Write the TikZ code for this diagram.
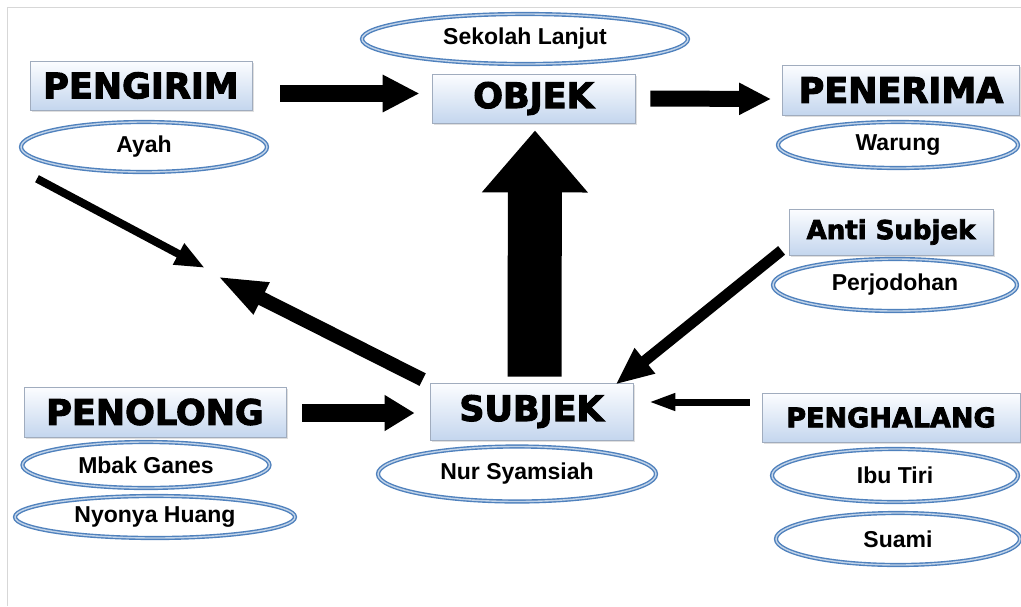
\documentclass[tikz,border=0pt]{standalone}
\usepackage{fontspec}
\setmainfont{Liberation Sans}
\newfontfamily\titlefont{DejaVu Sans}[BoldFeatures={FakeBold=3}]
\usetikzlibrary{arrows.meta, shadows, positioning, shapes.geometric}
\definecolor{boxtop}{RGB}{252,253,255}
\definecolor{boxbottom}{RGB}{196,214,238}
\definecolor{boxline}{RGB}{160,172,190}
\definecolor{ringblue}{RGB}{79,129,189}
\definecolor{frameline}{RGB}{215,215,215}
\tikzset{
  role/.style={rectangle, draw=boxline, line width=0.8pt, top color=boxtop, bottom color=boxbottom,
    drop shadow={shadow xshift=2pt, shadow yshift=-2pt, fill=black!25}, inner sep=0pt,
    font=\titlefont\bfseries\fontsize{35}{35}\selectfont},
  actor/.style={ellipse, draw=ringblue, line width=1.4pt, double=ringblue!35, double distance=1.4pt,
    fill=white, inner sep=0pt, font=\bfseries\fontsize{23}{23}\selectfont},
  arr/.style n args={3}{line width=#1, -{Triangle[length=#2,width=#3]}},
}

\begin{document}
\begin{tikzpicture}[x=1pt, y=-1pt]
\useasboundingbox (0,0) rectangle (1021,606);
\draw[frameline, line width=1pt] (7,606) -- (7,7) -- (1021,7);

% roles
\node[role, minimum width=222pt, minimum height=49pt] (pengirim) at (141,85.5) {PENGIRIM};
\node[role, minimum width=203pt, minimum height=49pt] (objek) at (533.5,98.5) {OBJEK};
\node[role, minimum width=237pt, minimum height=50pt] (penerima) at (901,90) {PENERIMA};
\node[role, minimum width=204pt, minimum height=46pt, font=\titlefont\bfseries\fontsize{26}{26}\selectfont] (anti) at (891,232) {Anti Subjek};
\node[role, minimum width=203pt, minimum height=57pt] (subjek) at (531.5,411.5) {SUBJEK};
\node[role, minimum width=258pt, minimum height=49pt, font=\titlefont\bfseries\fontsize{27}{27}\selectfont] (penghalang) at (891,417.5) {PENGHALANG};
\node[role, minimum width=262pt, minimum height=50pt] (penolong) at (155,412) {PENOLONG};

% actors
\node[actor, minimum width=246pt, minimum height=50pt] (ayah) at (144,147) {Ayah};
\node[actor, minimum width=326pt, minimum height=50pt] (sekolah) at (525,39) {Sekolah Lanjut};
\node[actor, minimum width=240pt, minimum height=46pt] (warung) at (898,145) {Warung};
\node[actor, minimum width=244pt, minimum height=52pt] (perjodohan) at (895,285) {Perjodohan};
\node[actor, minimum width=278pt, minimum height=55pt] (nursyamsiah) at (517,474) {Nur Syamsiah};
\node[actor, minimum width=246pt, minimum height=53pt] (ibutiri) at (895,475.5) {Ibu Tiri};
\node[actor, minimum width=244pt, minimum height=52pt] (suami) at (898,539) {Suami};
\node[actor, minimum width=247pt, minimum height=46pt] (mbak) at (146,465) {Mbak Ganes};
\node[actor, minimum width=280pt, minimum height=42pt] (nyonya) at (155,517) {Nyonya Huang};

\coordinate (tipa) at (205,268);
\coordinate (tipb) at (217,276);

% arrows
\draw[arr={17pt}{37pt}{35pt}] ([shift={(28,8)}]pengirim.east) -- ([shift={(-12,-5)}]objek.west);
\draw[arr={16pt}{32pt}{30pt}] ([shift={(15,0)}]objek.east) -- ([shift={(-11,9)}]penerima.west);
\draw[arr={54pt}{62pt}{102pt}] ([shift={(3,-6)}]subjek.north) -- ([shift={(1.5,7)}]objek.south);
\draw[arr={11pt}{38pt}{30pt}] ([shift={(-7,-5)}]anti.south west) -- ([shift={(-18,2)}]subjek.north east);
\draw[arr={7pt}{27pt}{16pt}] ([shift={(-12,-15.5)}]penghalang.west) -- ([shift={(15,-9.5)}]subjek.east);
\draw[arr={18pt}{30pt}{34pt}] ([shift={(16,1)}]penolong.east) -- ([shift={(-15,1.5)}]subjek.west);
\draw[arr={8pt}{30pt}{22pt}] ([shift={(-107,6)}]ayah.south) -- (tipa);
\draw[arr={14pt}{50pt}{32pt}] ([shift={(-7,-3)}]subjek.north west) -- (tipb);
\end{tikzpicture}
\end{document}
